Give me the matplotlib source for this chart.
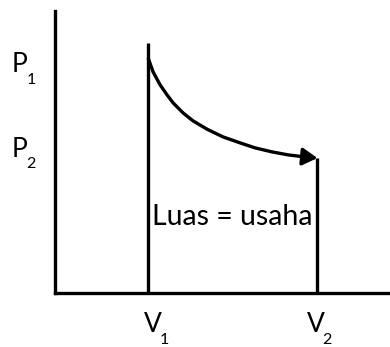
import matplotlib
matplotlib.use("Agg")
import matplotlib.pyplot as plt

# volume / pressure values (arbitrary units)
V1, V2 = 1.0, 2.82
P1, P2 = 2.53, 1.45
V1_top = 2.69

curve_V = [1.000, 1.054, 1.129, 1.204, 1.269, 1.376, 1.484, 1.634, 1.806,
           1.989, 2.151, 2.333, 2.505, 2.688, 2.820]
curve_P = [2.527, 2.376, 2.237, 2.129, 2.043, 1.935, 1.849, 1.760, 1.677,
           1.613, 1.559, 1.516, 1.484, 1.462, 1.450]

area_label = "Luas = usaha"

plt.rcParams["font.family"] = ["Lato", "DejaVu Sans"]

fig = plt.figure(figsize=(3.9, 3.47), dpi=100)
ax = fig.add_axes([55/390, 54/347, 335/390, 282/347])
ax.set_xlim(0, 3.6)
ax.set_ylim(0, 3.03)

for s in ["top", "right"]:
    ax.spines[s].set_visible(False)
for s in ["left", "bottom"]:
    ax.spines[s].set_linewidth(2.4)
    ax.spines[s].set_color("black")
ax.set_xticks([])
ax.set_yticks([])

lw = 2.4
ax.plot([V1, V1], [0, V1_top], color="black", lw=lw, solid_capstyle="butt")
ax.plot([V2, V2], [0, P2], color="black", lw=lw, solid_capstyle="butt")

# curve, last segment drawn as arrow
ax.plot(curve_V[:-1], curve_P[:-1], color="black", lw=lw,
        solid_capstyle="butt", solid_joinstyle="round")
ax.annotate("", xy=(curve_V[-1], curve_P[-1]), xytext=(curve_V[-2], curve_P[-2]),
            arrowprops=dict(arrowstyle="-|>,head_length=0.6,head_width=0.35",
                            color="black", lw=lw, mutation_scale=15,
                            shrinkA=0, shrinkB=0))

ax.text((V1 + V2) / 2, 0.82, area_label, ha="center", va="center", fontsize=20.5)

def label(x, y, main, sub, dx, dy, sdx, sdy):
    ax.annotate(main, xy=(x, y), xytext=(dx, dy), textcoords="offset pixels",
                ha="center", va="center", fontsize=19, annotation_clip=False)
    ax.annotate(sub, xy=(x, y), xytext=(dx + sdx, dy + sdy), textcoords="offset pixels",
                ha="center", va="center", fontsize=11.5, annotation_clip=False)

label(0, P1, "P", "1", -35, -7, 11, -15)
label(0, P2, "P", "2", -35, 9, 11, -15)
label(V1, 0, "V", "1", 5, -31, 11, -16)
label(V2, 0, "V", "2", -2, -31, 11, -16)

fig.savefig("out.png", dpi=100)
